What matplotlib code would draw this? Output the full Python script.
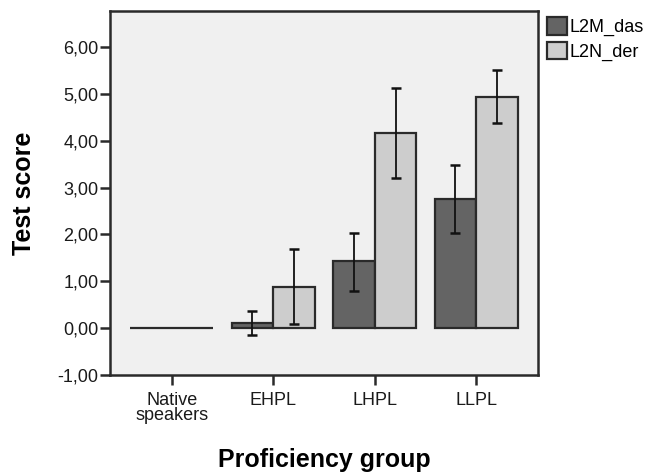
import matplotlib
matplotlib.use('Agg')
import matplotlib.pyplot as plt
import numpy as np

plt.rcParams['font.family'] = ['Liberation Sans', 'DejaVu Sans']

groups = ['Native\nspeakers', 'EHPL', 'LHPL', 'LLPL']
series = ['L2M_das', 'L2N_der']

das_mean = [0.0, 0.11, 1.44, 2.76]
das_low = [0.0, -0.15, 0.79, 2.04]
das_high = [0.0, 0.37, 2.03, 3.48]

der_mean = [0.0, 0.89, 4.17, 4.94]
der_low = [0.0, 0.08, 3.20, 4.37]
der_high = [0.0, 1.70, 5.13, 5.50]

colors = ['#646464', '#cdcdcd']
yticks = [-1, 0, 1, 2, 3, 4, 5, 6]

fig = plt.figure(figsize=(6.5, 4.76), dpi=100)
ax = fig.add_axes([0.169, 0.212, 0.659, 0.765])
ax.set_facecolor('#f0f0f0')

x = np.arange(len(groups))
w = 0.41
for i, (mean, lo, hi) in enumerate([(das_mean, das_low, das_high),
                                    (der_mean, der_low, der_high)]):
    pos = x + (i - 0.5) * w
    mean = np.array(mean)
    yerr = [mean - np.array(lo), np.array(hi) - mean]
    ax.bar(pos, mean, width=w, color=colors[i], edgecolor='#2a2a2a',
           linewidth=1.6, label=series[i], zorder=2)
    show = mean != 0
    ax.errorbar(pos[show], mean[show], yerr=[yerr[0][show], yerr[1][show]],
                fmt='none', ecolor='#111111', elinewidth=1.3, capsize=3.3,
                capthick=1.8, zorder=3)

ax.set_xlim(-0.61, 3.61)
ax.set_ylim(-1, 6.77)
ax.set_xticks(x)
ax.set_xticklabels(groups, fontsize=13, linespacing=0.9)
ax.set_yticks(yticks)
ax.set_yticklabels([('%.2f' % v).replace('.', ',') for v in yticks], fontsize=13)
for s in ax.spines.values():
    s.set_linewidth(1.8)
    s.set_color('#2a2a2a')
ax.tick_params(axis='both', direction='out', length=7, width=1.8,
               color='#2a2a2a', labelcolor='#1a1a1a', pad=1)
ax.tick_params(axis='x', pad=5)

ax.set_ylabel('Test score', fontsize=18, fontweight='bold', labelpad=16)
ax.set_xlabel('Proficiency group', fontsize=18, fontweight='bold', labelpad=17)

fig.legend(loc='upper left', bbox_to_anchor=(0.83, 0.979), frameon=False,
           fontsize=13, handlelength=1.1, handleheight=1.1, handletextpad=0.15,
           labelspacing=0.3, borderaxespad=0)

fig.savefig('out.png', dpi=100)
